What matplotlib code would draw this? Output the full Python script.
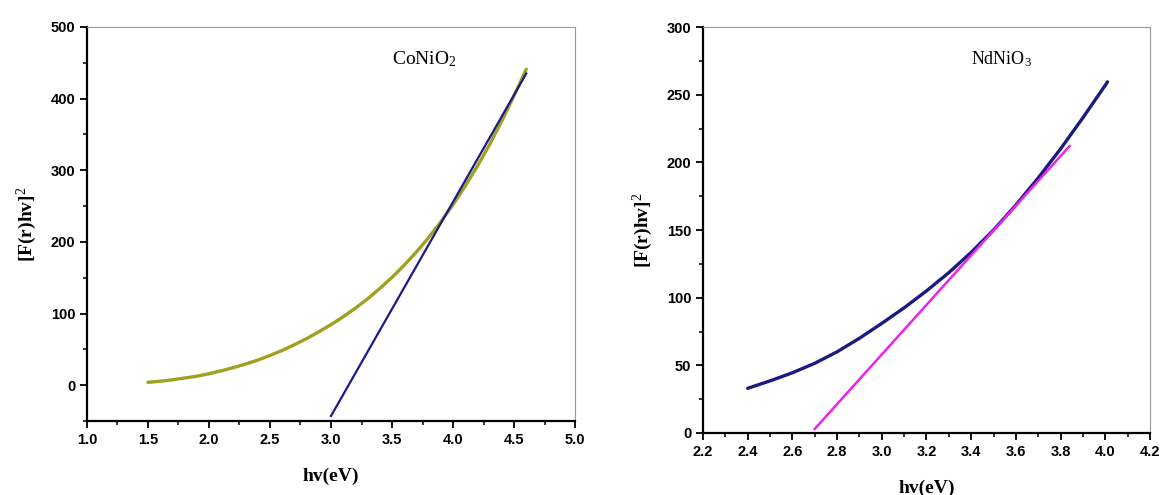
import matplotlib
matplotlib.use("Agg")
import matplotlib.pyplot as plt
from matplotlib.ticker import MultipleLocator
import numpy as np

plt.rcParams['mathtext.fontset'] = 'custom'
plt.rcParams['mathtext.rm'] = 'Liberation Serif'
plt.rcParams['mathtext.it'] = 'Liberation Serif:italic'
plt.rcParams['mathtext.bf'] = 'Liberation Serif:bold'

# CoNiO2 data
co_x = [1.5, 1.6, 1.7, 1.8, 1.9, 2.0, 2.1, 2.2, 2.3, 2.4, 2.5, 2.6, 2.7, 2.8, 2.9, 3.0,
        3.1, 3.2, 3.3, 3.4, 3.5, 3.6, 3.7, 3.8, 3.9, 4.0, 4.1, 4.2, 4.3, 4.4, 4.5, 4.6]
co_y = [4, 5.5, 7.5, 10, 12.5, 16, 20, 24.5, 29.5, 35, 41.5, 48.5, 56.5, 65, 74.5, 84.5,
        95.5, 107.5, 120.5, 135, 150.5, 167.5, 186, 206, 228, 252, 278, 306, 336, 369, 404, 441]
co_fit_x = [3.0, 4.6]
co_fit_y = [-43, 435]

# NdNiO3 data
nd_x = [2.4, 2.5, 2.6, 2.7, 2.8, 2.9, 3.0, 3.1, 3.2, 3.3, 3.4, 3.5, 3.6, 3.7, 3.8, 3.9, 4.0, 4.01]
nd_y = [33, 38.5, 44.5, 51.5, 60, 70, 81, 92.5, 105, 118.5, 133.5, 150, 168.5, 188.5, 210, 233, 257, 259.5]
nd_fit_x = [2.7, 3.84]
nd_fit_y = [3, 212]

fig = plt.figure(figsize=(11.61, 4.95), dpi=100)
ax1 = fig.add_axes([0.0749, 0.1495, 0.4204, 0.796])
ax2 = fig.add_axes([0.6055, 0.1253, 0.385, 0.820])

tick_family = 'Liberation Sans'
tick_size = 10.5
label_font = {'family': 'Liberation Serif', 'weight': 'bold', 'size': 14}

def style(ax):
    for s in ['left', 'bottom']:
        ax.spines[s].set_linewidth(1.6)
        ax.spines[s].set_color('black')
    for s in ['top', 'right']:
        ax.spines[s].set_linewidth(0.8)
        ax.spines[s].set_color('#999999')
    ax.tick_params(which='both', direction='out', top=False, right=False)
    ax.tick_params(which='major', length=5, width=1.3)
    ax.tick_params(which='minor', length=3, width=1.1)
    for lab in ax.get_xticklabels() + ax.get_yticklabels():
        lab.set_fontfamily(tick_family)
        lab.set_fontweight('bold')
        lab.set_fontsize(tick_size)

ax1.plot(co_x, co_y, color='#a0a020', lw=2.4, solid_capstyle='round', solid_joinstyle='round')
ax1.plot(co_fit_x, co_fit_y, color='#1a1a8a', lw=1.6)
ax1.set_xlim(1.0, 5.0)
ax1.set_ylim(-50, 500)
xt1 = np.arange(1.0, 5.01, 0.5)
ax1.set_xticks(xt1)
ax1.set_xticklabels([f"{v:.1f}" for v in xt1])
ax1.xaxis.set_minor_locator(MultipleLocator(0.25))
ax1.set_yticks([0, 100, 200, 300, 400, 500])
ax1.yaxis.set_minor_locator(MultipleLocator(50))
ax1.set_xlabel('hv(eV)', fontdict=label_font, labelpad=15)
ax1.set_ylabel(r'[F(r)hv]$^{\mathrm{2}}$', fontdict=label_font, labelpad=8)
ax1.text(3.5, 455, r'CoNiO$_{\mathrm{2}}$', fontsize=14, family='Liberation Serif', va='center')
style(ax1)

ax2.plot(nd_x, nd_y, color='#1a1a80', lw=2.4, solid_capstyle='round', solid_joinstyle='round')
ax2.plot(nd_fit_x, nd_fit_y, color='#ee22ee', lw=1.8)
ax2.set_xlim(2.2, 4.2)
ax2.set_ylim(0, 300)
xt2 = np.arange(2.2, 4.21, 0.2)
ax2.set_xticks(xt2)
ax2.set_xticklabels([f"{v:.1f}" for v in xt2])
ax2.xaxis.set_minor_locator(MultipleLocator(0.1))
ax2.set_yticks([0, 50, 100, 150, 200, 250, 300])
ax2.yaxis.set_minor_locator(MultipleLocator(25))
ax2.set_xlabel('hv(eV)', fontdict=label_font, labelpad=15)
ax2.set_ylabel(r'[F(r)hv]$^{\mathrm{2}}$', fontdict=label_font, labelpad=8)
ax2.text(3.40, 276, r'NdNiO$_{\mathrm{3}}$', fontsize=13, family='Liberation Serif', va='center')
style(ax2)

fig.savefig('out.png', dpi=100, facecolor='white')
